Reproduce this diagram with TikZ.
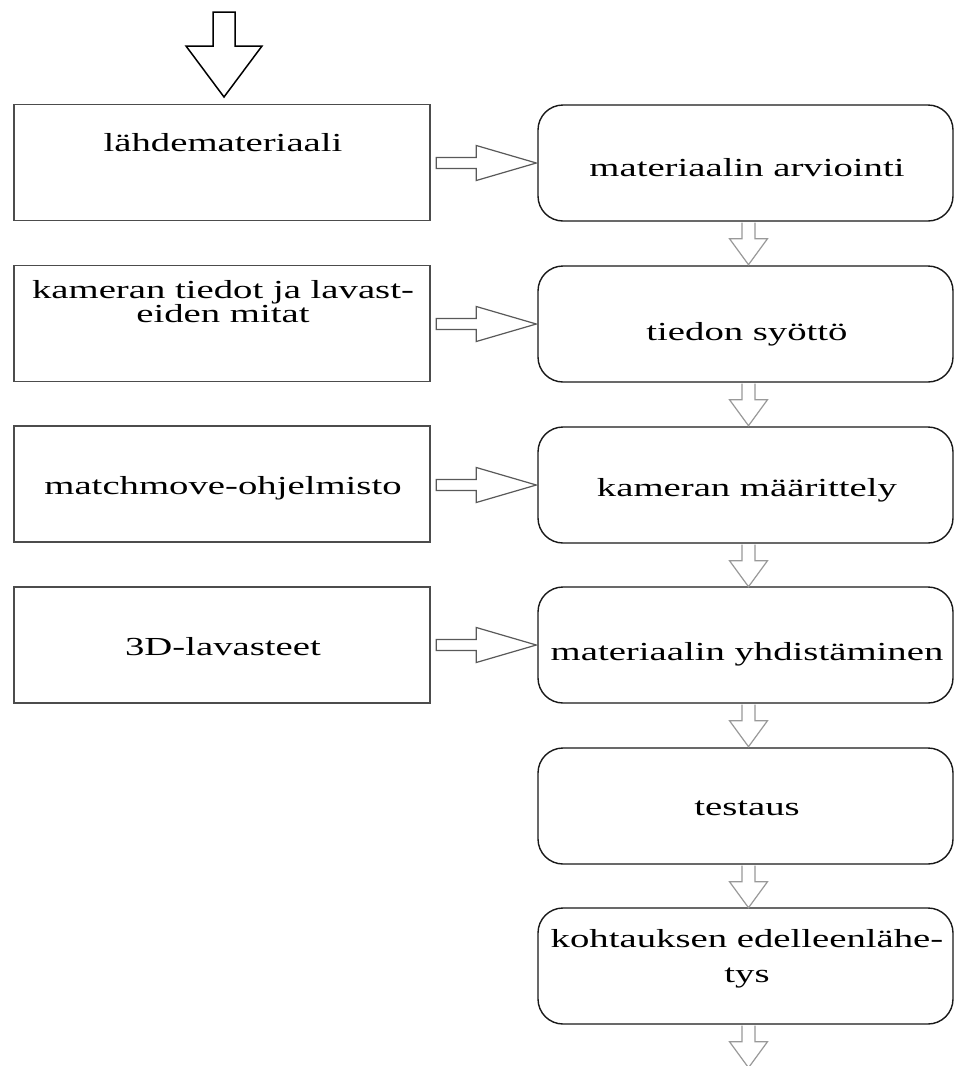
\documentclass[tikz,border=0pt]{standalone}
\usepackage{fontspec}
\setmainfont{Liberation Serif}[FakeStretch=1.49]
\usetikzlibrary{calc}
\begin{document}
\begin{tikzpicture}[x=1pt,y=-1pt,
  lbox/.style={draw=black!70,line width=1.6pt,minimum width=416pt,minimum height=116pt,inner sep=0pt},
  rbox/.style={draw=black!90,line width=1.4pt,rounded corners=25pt,minimum width=415pt,minimum height=116pt,inner sep=0pt},
  txt/.style={anchor=base,inner sep=0pt,font=\fontsize{26}{28}\selectfont},
  harrow/.style={draw=black!65,line width=1.2pt,fill=white,line join=miter},
  varrow/.style={draw=black!40,line width=1.2pt,fill=white,line join=miter},
  tarrow/.style={draw=black,line width=1.5pt,fill=white,line join=miter}]
\useasboundingbox (0,0) rectangle (955,1066);
\fill[white] (0,0) rectangle (955,1066);
% left boxes
\node[lbox] (L1) at (222,162.5) {};
\node[lbox] (L2) at (222,323.5) {};
\node[lbox] (L3) at (222,484) {};
\node[lbox] (L4) at (222,645) {};
% right boxes
\node[rbox] (R1) at (745.5,163) {};
\node[rbox] (R2) at (745.5,324) {};
\node[rbox] (R3) at (745.5,485) {};
\node[rbox] (R4) at (745.5,645) {};
\node[rbox] (R5) at (745.5,806) {};
\node[rbox] (R6) at (745.5,966) {};
% texts
\node[txt] (tL1) at (223,151) {lähdemateriaali};
\node[txt] (tL2a) at (223,298) {kameran tiedot ja lavast-};
\node[txt] (tL2b) at (223,322) {eiden mitat};
\node[txt] (tL3) at (223,494) {matchmove-ohjelmisto};
\node[txt] (tL4) at (223,655) {3D-lavasteet};
\node[txt] (tR1) at (747,176) {materiaalin arviointi};
\node[txt] (tR2) at (747,340) {tiedon syöttö};
\node[txt] (tR3) at (747,496) {kameran määrittely};
\node[txt] (tR4) at (747,660) {materiaalin yhdistäminen};
\node[txt] (tR5) at (747,815) {testaus};
\node[txt] (tR6a) at (747,947) {kohtauksen edelleenlähe-};
\node[txt] (tR6b) at (747,982) {tys};
% top arrow
\coordinate (top) at (224,12);
\draw[tarrow] ($(top)+(-11,0)$) -- ($(top)+(11,0)$) -- ($(top)+(11,34)$) -- ($(top)+(38,34)$)
  -- ($(top)+(0,85)$) -- ($(top)+(-38,34)$) -- ($(top)+(-11,34)$) -- cycle;
% horizontal arrows
\foreach \r in {R1,R2,R3,R4}{
  \draw[harrow] ($(\r.west)+(-101,-5.5)$) -- ($(\r.west)+(-61,-5.5)$) -- ($(\r.west)+(-61,-17.5)$)
    -- ($(\r.west)+(-1,0)$) -- ($(\r.west)+(-61,17.5)$) -- ($(\r.west)+(-61,5.5)$) -- ($(\r.west)+(-101,5.5)$) -- cycle;
}
% vertical arrows
\foreach \a in {R1,R2,R3,R4,R5,R6}{
  \draw[varrow] ($(\a.south)+(-3.5,1)$) -- ($(\a.south)+(-3.5,17)$) -- ($(\a.south)+(-16,17)$)
    -- ($(\a.south)+(3,43)$) -- ($(\a.south)+(22,17)$) -- ($(\a.south)+(9.5,17)$) -- ($(\a.south)+(9.5,1)$);
}
\end{tikzpicture}
\end{document}
